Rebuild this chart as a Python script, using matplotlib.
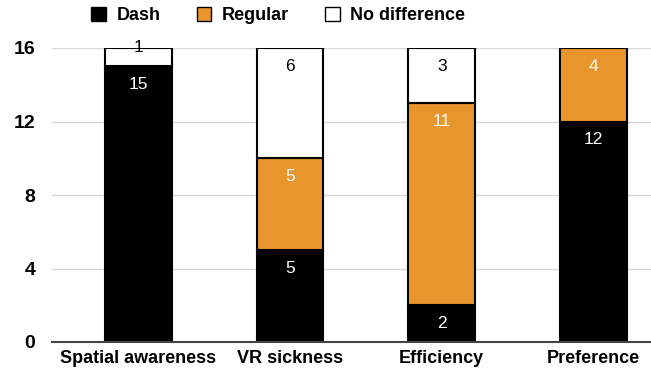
import numpy as np
import matplotlib.pyplot as plt
from matplotlib.patches import Patch

plt.rcParams['font.family'] = ['Liberation Sans Narrow', 'Liberation Sans', 'DejaVu Sans']

categories = ["Spatial awareness", "VR sickness", "Efficiency", "Preference"]
dash = [15, 5, 2, 12]
regular = [0, 5, 11, 4]
nodiff = [1, 6, 3, 0]
yticks = [0, 4, 8, 12, 16]

orange = '#e8952e'

fig = plt.figure(figsize=(6.51, 3.72), dpi=100)
ax = fig.add_axes([52/651, 30/372, 1 - 52/651, 294/372])

x = np.arange(len(categories))
w = 0.44
dash = np.array(dash)
regular = np.array(regular)
nodiff = np.array(nodiff)

series = [(dash, np.zeros(4), 'black', 'white'),
          (regular, dash, orange, 'white'),
          (nodiff, dash + regular, 'white', 'black')]

for vals, bottom, col, tcol in series:
    ax.bar(x, vals, w, bottom=bottom, color=col, edgecolor='black', linewidth=1.5, zorder=3)
    for xi, v, b in zip(x, vals, bottom):
        if v == 0:
            continue
        top = b + v
        ty = top if v <= 1 else top - 1.0
        ax.text(xi, ty, str(v), ha='center', va='center', color=tcol, fontsize=12.5, zorder=4)

ax.set_xlim(-0.57, 3.38)
ax.set_ylim(0, 16)
ax.set_yticks(yticks)
ax.yaxis.grid(True, color='#d8d8d8', linewidth=1, zorder=0)
ax.set_axisbelow(True)
for s in ['top', 'right', 'left']:
    ax.spines[s].set_visible(False)
ax.spines['bottom'].set_color('#444444')
ax.spines['bottom'].set_linewidth(1.5)
ax.spines['bottom'].set_zorder(5)
ax.tick_params(axis='both', length=0, labelsize=13)
ax.tick_params(axis='y', pad=12, labelsize=14)
ax.tick_params(axis='x', pad=6)
ax.set_xticks(x)
ax.set_xticklabels(categories, fontweight='bold')
for t in ax.get_yticklabels():
    t.set_fontweight('bold')

handles = [Patch(facecolor='black', edgecolor='black'),
           Patch(facecolor=orange, edgecolor='black'),
           Patch(facecolor='white', edgecolor='black')]
fig.legend(handles, ['Dash', 'Regular', 'No difference'], loc='upper left',
           bbox_to_anchor=(75/651, 1.025), ncol=3, frameon=False,
           prop={'weight': 'bold', 'size': 13}, handlelength=0.8, handleheight=0.8,
           columnspacing=2.0, handletextpad=0.6)

fig.savefig('out.png', dpi=100)
